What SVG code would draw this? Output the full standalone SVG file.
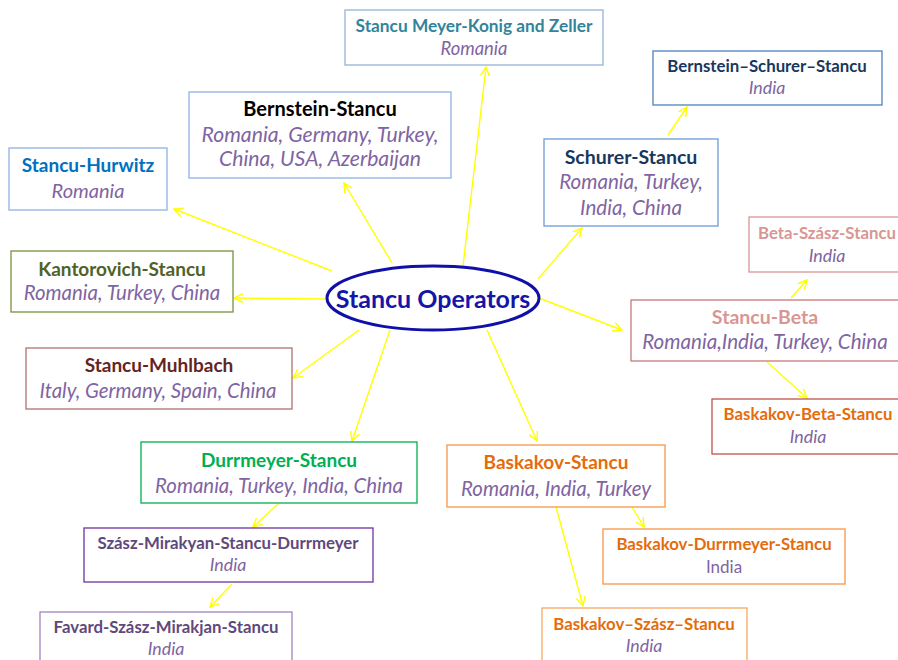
<svg xmlns="http://www.w3.org/2000/svg" width="898" height="660" viewBox="0 0 898 660">
<style>
.box{fill:#fff;stroke-width:1.3}
.t{font-family:Lato,"Open Sans","Liberation Sans",sans-serif;font-weight:bold;text-anchor:middle}
.s{font-family:Lato,"Open Sans","Liberation Sans",sans-serif;font-style:italic;fill:#8064A2;text-anchor:middle}
.c{stroke:#FFFF00;stroke-width:1.4;fill:none;marker-end:url(#ah)}
</style>
<defs>
<marker id="ah" viewBox="0 0 10 10" refX="9" refY="5" markerWidth="10" markerHeight="10" markerUnits="userSpaceOnUse" orient="auto">
<path d="M0,0.5 L9,5 L0,9.5" fill="none" stroke="#FFFF00" stroke-width="1.4"/>
</marker>
</defs>
<rect width="898" height="660" fill="#fff"/>
<g id="connectors">
<line class="c" x1="463" y1="266" x2="486" y2="67"/>
<line class="c" x1="392" y1="263" x2="344" y2="183"/>
<line class="c" x1="332" y1="271" x2="174" y2="209"/>
<line class="c" x1="327" y1="299" x2="234" y2="298"/>
<line class="c" x1="359" y1="330" x2="293" y2="378"/>
<line class="c" x1="390" y1="330" x2="352" y2="441"/>
<line class="c" x1="487" y1="330" x2="537" y2="441"/>
<line class="c" x1="539" y1="298" x2="622" y2="330"/>
<line class="c" x1="538" y1="279" x2="582" y2="228"/>
<line class="c" x1="668" y1="135" x2="687" y2="107"/>
<line class="c" x1="791" y1="298" x2="807" y2="280"/>
<line class="c" x1="767" y1="362" x2="807" y2="398"/>
<line class="c" x1="278" y1="504" x2="253" y2="527"/>
<line class="c" x1="232" y1="584" x2="210" y2="607"/>
<line class="c" x1="632" y1="507" x2="644" y2="527"/>
<line class="c" x1="556" y1="507" x2="583" y2="606"/>
</g>
<g id="center">
<ellipse cx="433" cy="298" rx="106" ry="32" fill="#fff" stroke="#1010A8" stroke-width="3"/>
<text class="t" x="433" y="308" font-size="25" fill="#1515A8">Stancu Operators</text>
</g>
<g id="meyer-konig-zeller">
<rect class="box" x="345" y="10" width="258" height="55" stroke="#95B3D7"/>
<text class="t" x="474" y="32" font-size="17.3" fill="#31849B">Stancu Meyer-Konig and Zeller</text>
<text class="s" x="474" y="55" font-size="18.4">Romania</text>
</g>
<g id="bernstein-stancu">
<rect class="box" x="189" y="92" width="262" height="86" stroke="#8DB3E2"/>
<text class="t" x="320" y="116" font-size="20" fill="#000">Bernstein-Stancu</text>
<text class="s" x="320" y="142" font-size="21.2">Romania, Germany, Turkey,</text>
<text class="s" x="320" y="166" font-size="21.2">China, USA, Azerbaijan</text>
</g>
<g id="bernstein-schurer-stancu">
<rect class="box" x="653" y="51" width="229" height="54" stroke="#4F81BD"/>
<text class="t" x="767" y="72" font-size="16.8" fill="#17375E">Bernstein–Schurer–Stancu</text>
<text class="s" x="767" y="94" font-size="17.8">India</text>
</g>
<g id="schurer-stancu">
<rect class="box" x="544" y="139" width="174" height="87" stroke="#6B9BD8"/>
<text class="t" x="631" y="164" font-size="19.5" fill="#17375E">Schurer-Stancu</text>
<text class="s" x="631" y="189" font-size="20.6">Romania, Turkey,</text>
<text class="s" x="631" y="215" font-size="20.6">India, China</text>
</g>
<g id="stancu-hurwitz">
<rect class="box" x="9" y="148" width="158" height="62" stroke="#8DB3E2"/>
<text class="t" x="88" y="172" font-size="19" fill="#0070C0">Stancu-Hurwitz</text>
<text class="s" x="88" y="198" font-size="20">Romania</text>
</g>
<g id="kantorovich-stancu">
<rect class="box" x="11" y="251" width="222" height="61" stroke="#77933C"/>
<text class="t" x="122" y="276" font-size="19" fill="#4F6228">Kantorovich-Stancu</text>
<text class="s" x="122" y="300" font-size="20.4">Romania, Turkey, China</text>
</g>
<g id="stancu-muhlbach">
<rect class="box" x="26" y="348" width="266" height="61" stroke="#B07070"/>
<text class="t" x="159" y="372" font-size="19" fill="#632523">Stancu-Muhlbach</text>
<text class="s" x="158" y="398" font-size="20.4">Italy, Germany, Spain, China</text>
</g>
<g id="beta-szasz-stancu">
<rect class="box" x="749" y="217" width="155" height="55" stroke="#D99694"/>
<text class="t" x="827" y="239" font-size="16.8" fill="#D99694">Beta-Szász-Stancu</text>
<text class="s" x="827" y="262" font-size="17.8">India</text>
</g>
<g id="stancu-beta">
<rect class="box" x="631" y="300" width="272" height="61" stroke="#C87878"/>
<text class="t" x="765" y="324" font-size="19.5" fill="#D99694">Stancu-Beta</text>
<text class="s" x="765" y="349" font-size="20.6">Romania,India, Turkey, China</text>
</g>
<g id="baskakov-beta-stancu">
<rect class="box" x="712" y="399" width="192" height="55" stroke="#C0504D"/>
<text class="t" x="808" y="420" font-size="16.8" fill="#E46C0A">Baskakov-Beta-Stancu</text>
<text class="s" x="808" y="443" font-size="17.8">India</text>
</g>
<g id="durrmeyer-stancu">
<rect class="box" x="141" y="442" width="276" height="61" stroke="#00B050"/>
<text class="t" x="279" y="467" font-size="19" fill="#00B050">Durrmeyer-Stancu</text>
<text class="s" x="279" y="493" font-size="20.4">Romania, Turkey, India, China</text>
</g>
<g id="szasz-mirakyan-stancu-durrmeyer">
<rect class="box" x="84" y="528" width="289" height="54" stroke="#7030A0"/>
<text class="t" x="228" y="549" font-size="16.8" fill="#5F497A">Szász-Mirakyan-Stancu-Durrmeyer</text>
<text class="s" x="228" y="571" font-size="17.8">India</text>
</g>
<g id="favard-szasz-mirakjan-stancu">
<rect class="box" x="40" y="612" width="252" height="60" stroke="#A084C0"/>
<text class="t" x="166" y="633" font-size="16.8" fill="#5F497A">Favard-Szász-Mirakjan-Stancu</text>
<text class="s" x="166" y="655" font-size="17.8">India</text>
</g>
<g id="baskakov-stancu">
<rect class="box" x="447" y="445" width="218" height="62" stroke="#F79646"/>
<text class="t" x="556" y="469" font-size="19" fill="#E46C0A">Baskakov-Stancu</text>
<text class="s" x="556" y="496" font-size="20.4">Romania, India, Turkey</text>
</g>
<g id="baskakov-durrmeyer-stancu">
<rect class="box" x="603" y="529" width="242" height="55" stroke="#F79646"/>
<text class="t" x="724" y="550" font-size="16.8" fill="#E46C0A">Baskakov-Durrmeyer-Stancu</text>
<text x="724" y="573" font-size="17" fill="#8064A2" text-anchor="middle" font-family="Lato,'Open Sans','Liberation Sans',sans-serif">India</text>
</g>
<g id="baskakov-szasz-stancu">
<rect class="box" x="542" y="608" width="205" height="64" stroke="#F9A860"/>
<text class="t" x="644" y="630" font-size="16.8" fill="#E46C0A">Baskakov–Szász–Stancu</text>
<text class="s" x="644" y="652" font-size="17.8">India</text>
</g>
</svg>
